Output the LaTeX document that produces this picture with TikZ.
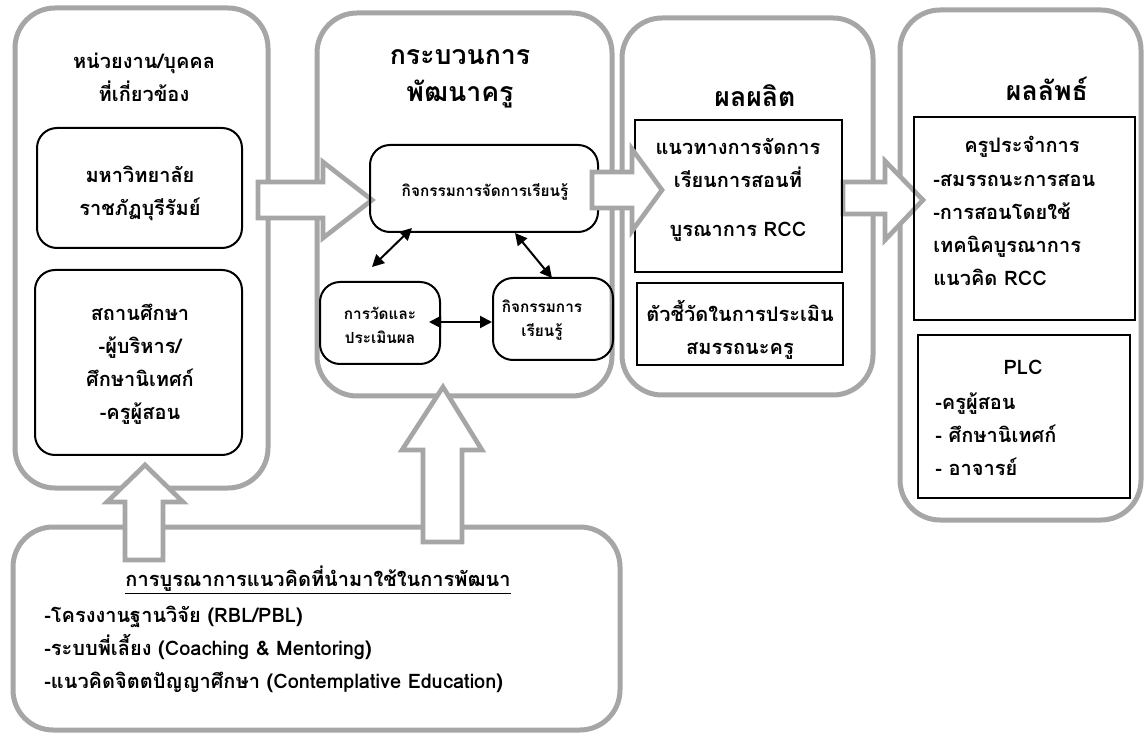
\documentclass[tikz,border=0pt]{standalone}
\usepackage{fontspec}
\setmainfont[Script=Thai]{Loma}
\usetikzlibrary{arrows.meta,fit}
\definecolor{boxgray}{HTML}{A6A6A6}
\newcommand\bigf{\fontsize{15pt}{24.75pt}\selectfont\bfseries}
\newcommand\titlef{\fontsize{20pt}{28pt}\selectfont\bfseries}
\newcommand\smallf{\fontsize{11.5pt}{18pt}\selectfont\bfseries}
\tikzset{
  graybox/.style={draw=boxgray, line width=3.75pt, rounded corners=30pt, inner sep=0pt},
  innerbox/.style={draw=black, line width=1.5pt, rounded corners=15pt, inner sep=0pt},
  plainbox/.style={draw=black, line width=1.5pt, inner sep=0pt},
  blockarrow/.style={draw=boxgray, line width=3.5pt, fill=white, line join=miter},
  dbl/.style={{Triangle[length=9pt,width=9pt]}-{Triangle[length=9pt,width=9pt]}, line width=1.5pt, black},
  txt/.style={inner sep=0pt, align=center, font=\bigf},
  ttxt/.style={inner sep=0pt, align=center, font=\titlef},
  ltxt/.style={inner sep=0pt, align=left, font=\bigf, anchor=west},
  stxt/.style={inner sep=0pt, align=center, font=\smallf}
}
\begin{document}
\begin{tikzpicture}[x=0.75pt,y=-0.75pt]
\useasboundingbox[fill=white] (0,0) rectangle (1147,734);

% outer gray boxes
\node[graybox, fit={(15,8) (268,488)}] (L) {};
\node[graybox, fit={(317,13) (612,396)}] (M) {};
\node[graybox, fit={(622,18) (873,395)}] (P) {};
\node[graybox, fit={(900,10) (1141,520)}] (R) {};
\node[graybox, fit={(13,527) (620,730)}] (B) {};

% block arrows (behind inner boxes)
\draw[blockarrow] (258,182) -- (323,182) -- (323,162) -- (372,200) -- (323,238) -- (323,218) -- (258,218) -- cycle;
\draw[blockarrow] (843,182) -- (885,182) -- (885,161) -- (923,200) -- (885,240) -- (885,214) -- (843,214) -- cycle;
\draw[blockarrow] (125,560) -- (125,502) -- (107,502) -- (145,465) -- (183,502) -- (163,502) -- (163,560) -- cycle;
\draw[blockarrow] (423,542) -- (423,450) -- (402,450) -- (443,387) -- (482,450) -- (462,450) -- (462,542) -- cycle;

% inner boxes
\node[innerbox, fit={(37,128) (242,248)}] (L1) {};
\node[innerbox, fit={(35,270) (242,455)}] (L2) {};
\node[innerbox, fit={(370,145) (598,232)}] (M1) {};
\node[innerbox, fit={(320,282) (440,364)}] (M2) {};
\node[innerbox, fit={(493,278) (613,360)}] (M3) {};
\node[plainbox, fit={(635,120) (842,272)}] (P1) {};
\node[plainbox, fit={(637,283) (843,365)}] (P2) {};
\node[plainbox, fit={(914,117) (1135,320)}] (R1) {};
\node[plainbox, fit={(918,335) (1130,498)}] (R2) {};

% block arrow over box edge
\draw[blockarrow] (592,172) -- (632,172) -- (632,149) -- (662,190) -- (632,231) -- (632,208) -- (592,208) -- cycle;

% double arrows
\coordinate (a1s) at (372,267);
\coordinate (a1e) at (412,228);
\coordinate (a2s) at (515,233);
\coordinate (a2e) at (552,278);
\coordinate (a3s) at (429,322);
\coordinate (a3e) at (492,322);
\draw[dbl] (a1s) -- (a1e);
\draw[dbl] (a2s) -- (a2e);
\draw[dbl] (a3s) -- (a3e);

% texts
\node[txt] (Lt) at (144,77) {หน่วยงาน/บุคคล\\ที่เกี่ยวข้อง};
\node[txt] (L1t) at (140,193) {มหาวิทยาลัย\\ราชภัฏบุรีรัมย์};
\node[txt] (L2t) at (140,364) {สถานศึกษา\\-ผู้บริหาร/\\ศึกษานิเทศก์\\-ครูผู้สอน};

\node[ttxt] (Mt) at (460,79) {กระบวนการ\\พัฒนาครู};
\node[stxt] (M1t) at (485,192) {กิจกรรมการจัดการเรียนรู้};
\node[stxt] (M2t) at (380,325) {การวัดและ\\ประเมินผล};
\node[stxt] (M3t) at (542,320) {กิจกรรมการ\\เรียนรู้};

\node[ttxt] (Pt) at (755,96) {ผลผลิต};
\node[txt] (P1t) at (738,190) {แนวทางการจัดการ\\เรียนการสอนที่\\[12pt]บูรณาการ RCC};
\node[txt] (P2t) at (740,330) {ตัวชี้วัดในการประเมิน\\สมรรถนะครู};

\node[ttxt] (Rt) at (1047,89) {ผลลัพธ์};
\node[txt] (R1h) at (1022,147) {ครูประจำการ};
\node[ltxt] (R1t) at (933,230) {-สมรรถนะการสอน\\-การสอนโดยใช้\\เทคนิคบูรณาการ\\แนวคิด RCC};
\node[txt] (R2h) at (1023,367) {PLC};
\node[ltxt] (R2t) at (935,434) {-ครูผู้สอน\\- ศึกษานิเทศก์\\- อาจารย์};

\node[txt] (Bt) at (318,580) {\underline{การบูรณาการแนวคิดที่นำมาใช้ในการพัฒนา}};
\node[ltxt] (Bl) at (44,649) {-โครงงานฐานวิจัย (RBL/PBL)\\-ระบบพี่เลี้ยง (Coaching \& Mentoring)\\-แนวคิดจิตตปัญญาศึกษา (Contemplative Education)};
\end{tikzpicture}
\end{document}
